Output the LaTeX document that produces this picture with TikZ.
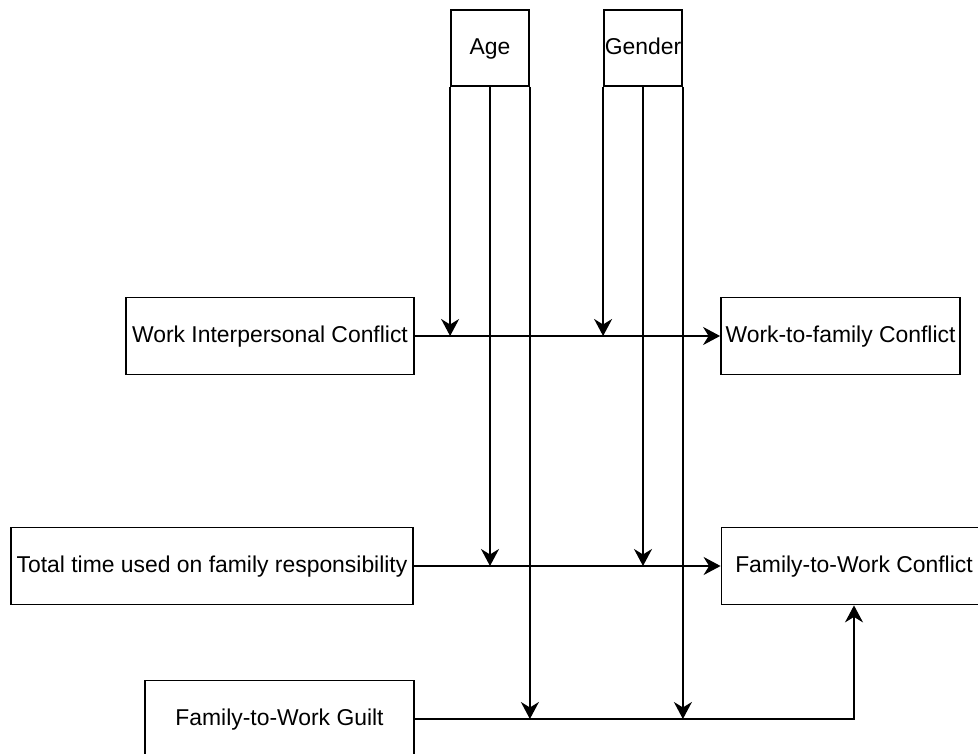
\documentclass[tikz,border=0pt]{standalone}
\usepackage{fontspec}
\setmainfont{Liberation Sans}
\usetikzlibrary{arrows.meta}
\begin{document}
\begin{tikzpicture}[x=1pt,y=-1pt,
  box/.style={draw, line width=1.8pt, fill=white, inner sep=0pt, align=center,
    text height=17.4pt, text depth=4.4pt,
    font=\fontsize{22.9}{27}\selectfont},
  link/.style={line width=1.8pt, -{Stealth[length=17pt,width=18pt,inset=5.5pt]}}]
  \clip (0,0) rectangle (978,754);
  \fill[white] (0,0) rectangle (978,754);
  % moderators
  \node[box, minimum width=78pt, minimum height=76pt] (age) at (490,48) {Age};
  \node[box, minimum width=78pt, minimum height=76pt] (gender) at (643,48) {Gender};
  % predictors
  \node[box, minimum width=288pt, minimum height=77pt] (wic) at (270,336) {Work Interpersonal Conflict};
  \node[box, minimum width=402pt, minimum height=77pt] (ttf) at (212,566) {Total time used on family responsibility};
  \node[box, minimum width=269pt, minimum height=77pt] (fwg) at (279.5,719) {Family-to-Work Guilt};
  % outcomes
  \node[box, minimum width=239pt, minimum height=77pt] (wfc) at (840.5,336) {Work-to-family Conflict};
  \node[box, minimum width=265pt, minimum height=77pt] (fwc) at (854,566) {Family-to-Work Conflict};
  % main paths
  \draw[link] (wic.east) -- (wfc.west);
  \draw[link] (ttf.east) -- (fwc.west);
  \draw[link] (fwg.east) -| (fwc.south);
  % moderating paths from age
  \draw[link] (age.south west) -- (age.south west |- wic.east);
  \draw[link] (age.south) -- (age.south |- ttf.east);
  \draw[link] (age.south east) -- (age.south east |- fwg.east);
  % moderating paths from gender
  \draw[link] (gender.south west) -- (gender.south west |- wic.east);
  \draw[link] (gender.south) -- (gender.south |- ttf.east);
  \draw[link] (gender.south east) -- (gender.south east |- fwg.east);
\end{tikzpicture}
\end{document}
